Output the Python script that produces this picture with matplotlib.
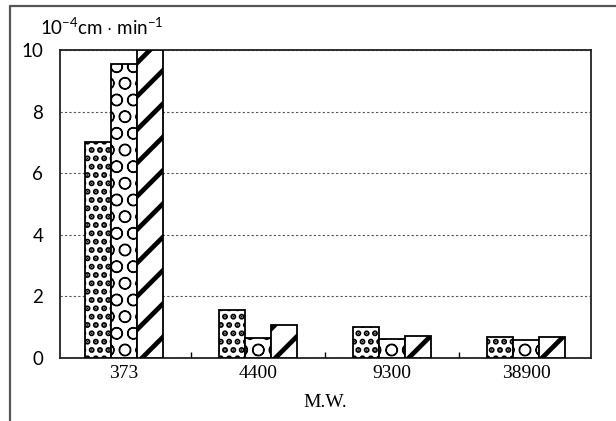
import matplotlib
matplotlib.use("Agg")
import matplotlib.pyplot as plt
import numpy as np
from matplotlib.lines import Line2D

# permeation rate (10^-4 cm/min) by molecular weight, three samples
categories = ["373", "4400", "9300", "38900"]
series_a = [7.0, 1.56, 1.01, 0.69]
series_b = [9.53, 0.64, 0.63, 0.57]
series_c = [10.0, 1.06, 0.70, 0.67]
y_ticks = [0, 2, 4, 6, 8, 10]

plt.rcParams["mathtext.fontset"] = "custom"
plt.rcParams["mathtext.rm"] = "Lato"
plt.rcParams["mathtext.it"] = "Lato"

fig = plt.figure(figsize=(6.16, 4.21), dpi=100)
ax = fig.add_axes([60 / 616, 1 - 358 / 421, 531 / 616, 308 / 421])

x = np.arange(len(categories))
w = 0.195
styles = [(series_a, "..", 3.0), (series_b, "O", 0.9), (series_c, "/", 3.4)]
for i, (vals, hatch, hlw) in enumerate(styles):
    with plt.rc_context({"hatch.linewidth": hlw, "hatch.color": "black"}):
        bars = ax.bar(x + (i - 1) * w, vals, w, color="white", edgecolor="black",
                      linewidth=1.3, hatch=hatch, zorder=3)
    for b in bars:
        if hasattr(b, "set_hatch_linewidth"):
            b.set_hatch_linewidth(hlw)

ax.set_xlim(-0.478, 3.485)
ax.set_ylim(0, 10)
ax.set_yticks(y_ticks)
ax.set_yticklabels([str(t) for t in y_ticks], family="Lato", fontsize=13.5)
ax.tick_params(axis="y", length=0, pad=12)

ax.set_xticks(x)
ax.set_xticklabels(categories, family="Liberation Serif", fontsize=14)
ax.tick_params(axis="x", which="major", length=0, pad=5)
ax.set_xticks([0.5, 1.5, 2.5], minor=True)
ax.tick_params(axis="x", which="minor", direction="in", length=4, width=1)

ax.grid(axis="y", linestyle=(0, (2, 2)), color="#555", linewidth=0.8, zorder=0)
ax.set_axisbelow(True)
for s in ax.spines.values():
    s.set_linewidth(1.3)
    s.set_color("#222")

ax.set_xlabel("M.W.", family="Liberation Serif", fontsize=14, labelpad=9)
fig.text(40 / 616, 1 - 27 / 421, r"10$^{-4}$cm $\cdot$ min$^{-1}$",
         family="Lato", fontsize=13.5, va="center", ha="left")

# outer frame of the original figure (top and left edges only)
fig.add_artist(Line2D([10 / 616, 10 / 616, 1.0], [0.0, 1 - 6 / 421, 1 - 6 / 421],
                      transform=fig.transFigure, color="#555", linewidth=1.6))

fig.savefig("out.png", dpi=100, facecolor="white")
